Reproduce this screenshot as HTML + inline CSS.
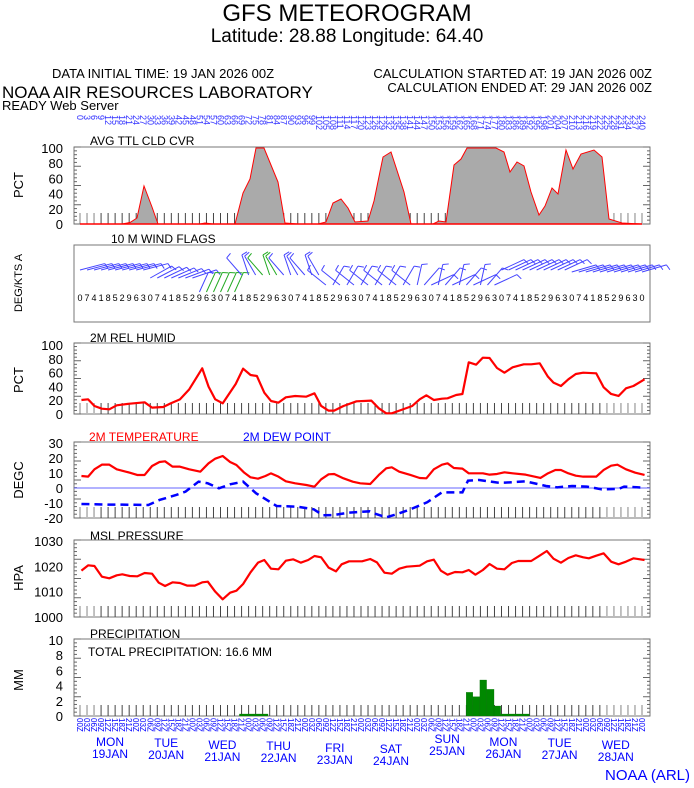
<!DOCTYPE html>
<html><head><meta charset="utf-8"><style>
html,body{margin:0;padding:0;background:#fff;}
svg{display:block;font-family:"Liberation Sans",sans-serif;}
</style></head><body>
<svg id="s" width="694" height="788" xmlns="http://www.w3.org/2000/svg">
<rect width="694" height="788" fill="#fff"/>
<text x="347" y="21" font-size="24" text-anchor="middle">GFS METEOROGRAM</text>
<text x="347" y="42" font-size="19" text-anchor="middle">Latitude: 28.88 Longitude:  64.40</text>
<text x="52" y="78" font-size="13">DATA INITIAL TIME: 19 JAN 2026 00Z</text>
<text x="652" y="78" font-size="13" text-anchor="end">CALCULATION STARTED AT: 19 JAN 2026 00Z</text>
<text x="652" y="92" font-size="13" text-anchor="end">CALCULATION ENDED AT: 29 JAN 2026 00Z</text>
<text x="2" y="98" font-size="17">NOAA AIR RESOURCES LABORATORY</text>
<text x="2" y="110" font-size="13">READY Web Server</text>

<text x="90" y="145" font-size="12">AVG TTL CLD CVR</text>
<text x="111" y="243" font-size="12">10 M  WIND FLAGS</text>
<text x="90" y="342" font-size="12">2M REL HUMID</text>
<text x="89" y="441" font-size="12" fill="#f00">2M TEMPERATURE</text>
<text x="243" y="441" font-size="12" fill="#00f">2M   DEW POINT</text>
<text x="90" y="540" font-size="12">MSL PRESSURE</text>
<text x="90" y="638" font-size="12">PRECIPITATION</text>
<text x="88" y="656" font-size="12">TOTAL PRECIPITATION:  16.6 MM</text>

<g font-size="13" transform="rotate(-90)">
<text x="-185" y="23" text-anchor="middle">PCT</text>
<text x="-283" y="22" text-anchor="middle" font-size="11">DEG/KTS  A</text>
<text x="-380" y="23" text-anchor="middle">PCT</text>
<text x="-480" y="23" text-anchor="middle">DEGC</text>
<text x="-578" y="23" text-anchor="middle">HPA</text>
<text x="-680" y="23" text-anchor="middle">MM</text>
</g>
<g id="dyn"></g>

<polygon fill="#aaa" stroke="#f00" stroke-width="1" points="80,224 122,224 130,222.5 137,218 144,186 152,207 158,224 200,224 205,223 213,224 235,224 243,193 250,179 256,148 264,148 278,182 285,223 298,224 318,224 326,222 333,203 341,199 348,208 355,222 368,221 374,201 383,157 391,152 404,192 411,224 433,224 439,221 446,222 454,165 461,159 467,148 496,148 504,152 510,172 517,162 524,166 531,192 539,215 545,206 552,188 558,194 566,150 573,169 581,154 594,150 602,157 609,219 622,223 642,224"/>
<line x1="80" y1="224" x2="642" y2="224" stroke="#f00" stroke-width="1.5"/>

<g fill="none" stroke="#f00" stroke-width="2.2" stroke-linejoin="round">
<polyline vector-effect="non-scaling-stroke" transform="translate(74,340) scale(0.3717,0.3333)" points="20,180 38,178 55,198 75,206 95,208 115,196 150,191 190,187 210,203 240,201 260,190 285,178 310,148 345,85 362,140 380,178 400,190 435,132 455,86 475,105 492,108 512,158 530,183 550,188 570,172 595,168 625,170 647,160 665,198 685,212 700,212 725,198 760,184 800,182 820,205 840,220 855,220 880,210 910,198 930,178 948,166 968,180 990,176 1005,175 1028,165 1045,162 1062,67 1082,74 1100,53 1118,54 1138,84 1158,98 1180,82 1210,73 1230,73 1253,70 1275,110 1290,128 1310,138 1330,118 1350,102 1370,98 1405,100 1425,142 1445,162 1465,168 1485,145 1505,138 1535,118"/>
<polyline vector-effect="non-scaling-stroke" transform="translate(74,340) scale(0.3717,0.3333)" points="20,408 38,410 55,388 75,374 95,374 115,388 150,398 170,405 190,405 210,378 230,366 245,364 265,380 285,380 310,388 340,395 362,370 380,356 400,348 420,366 437,375 457,397 475,412 495,416 515,408 530,400 550,410 570,424 595,430 625,435 647,440 665,418 685,403 700,402 725,415 750,425 770,430 797,432 820,405 840,385 855,382 875,395 905,405 930,414 948,415 968,388 990,374 1005,370 1022,384 1045,386 1062,400 1082,400 1100,400 1118,404 1138,402 1158,397 1180,400 1215,404 1255,414 1275,400 1295,390 1310,390 1330,400 1350,407 1370,410 1405,410 1425,390 1445,377 1462,374 1485,388 1510,398 1535,405"/>
<polyline vector-effect="non-scaling-stroke" transform="translate(74,530) scale(0.3717,0.3333)" points="20,122 38,106 55,108 75,140 95,145 115,136 130,133 150,138 170,139 190,129 210,131 228,158 245,168 265,157 285,159 305,167 325,167 345,157 360,155 380,185 400,208 420,188 437,182 455,162 475,127 495,98 512,90 530,116 550,118 570,92 590,88 610,98 630,90 647,78 665,82 685,113 705,124 720,103 740,94 775,94 797,87 815,97 835,128 855,131 875,116 895,110 930,107 950,94 968,89 987,122 1005,134 1025,126 1045,127 1062,120 1080,134 1100,120 1118,102 1138,116 1158,118 1178,99 1195,93 1230,93 1250,79 1272,63 1290,86 1310,98 1330,84 1350,76 1370,82 1385,85 1405,77 1425,70 1445,95 1465,103 1485,95 1505,85 1535,90"/>
</g>
<line x1="74" y1="488" x2="650" y2="488" stroke="#66f" stroke-width="1"/>
<polyline fill="none" stroke="#00f" stroke-width="2.5" stroke-dasharray="8,5" vector-effect="non-scaling-stroke" transform="translate(74,340) scale(0.3717,0.3333)" points="20,492 95,494 130,494 200,495 230,480 275,465 300,455 335,425 360,430 390,445 420,433 455,425 490,460 545,498 600,500 645,508 670,526 700,525 740,518 795,514 812,522 840,532 870,522 905,508 950,487 990,457 1045,457 1060,422 1090,420 1140,428 1160,428 1215,424 1270,438 1300,442 1340,438 1380,440 1420,448 1465,447 1480,440 1535,443"/>

<g fill="#080" stroke="#060" stroke-width="0.6" transform="translate(74,530) scale(0.3717,0.3333)">
<rect x="1055" y="487" width="18" height="71"/>
<rect x="1073" y="500" width="19" height="58"/>
<rect x="1092" y="450" width="18" height="108"/>
<rect x="1110" y="478" width="20" height="80"/>
<rect x="1130" y="528" width="18" height="30"/>
<rect x="1148" y="552" width="77" height="6"/>
<rect x="445" y="552" width="77" height="6"/>
</g>

<text x="605" y="780" font-size="15" fill="#00f">NOAA (ARL)</text>
</svg>
<script>
const NS="http://www.w3.org/2000/svg";
const g=document.getElementById('dyn');
function el(t,a,txt){const e=document.createElementNS(NS,t);for(const k in a)e.setAttribute(k,a[k]);if(txt!==undefined)e.textContent=txt;g.appendChild(e);return e;}
const X=i=>80+7.025*i;
const panels=[[147,224],[245,322],[343,414],[442,518],[540,617],[639,716]];
panels.forEach((p,k)=>{
 el('rect',{x:74,y:p[0],width:576,height:p[1]-p[0],fill:'none',stroke:'#777','stroke-width':1});
 if(k==1)return;
 for(let i=0;i<=80;i++){const c=(i<3||i>74)?'#bbb':'#444';
  el('line',{x1:X(i),y1:p[1],x2:X(i),y2:p[1]-11,stroke:c,'stroke-width':(i<3||i>74)?1.8:1});}
 const h=p[1]-p[0];
 for(let j=0;j<=20;j++){const y=p[0]+h*j/20;const L=j%5==0?7:3;
  el('line',{x1:74,y1:y,x2:74+L,y2:y,stroke:'#666','stroke-width':1});
  el('line',{x1:650,y1:y,x2:650-L,y2:y,stroke:'#666','stroke-width':1});}
});
function yl(vals,y0,dy){vals.forEach((v,i)=>el('text',{x:63,y:y0+dy*i+5,'font-size':13,'text-anchor':'end'},v));}
yl(['100','80','60','40','20','0'],148,15.2);
yl(['100','80','60','40','20','0'],345,13.8);
yl(['30','20','10','0','-10','-20'],443,15);
yl(['1030','1020','1010','1000'],541,25.3);
yl(['10','8','6','4','2','0'],640,15.2);
for(let i=0;i<=80;i++){el('text',{x:0,y:0,'font-size':9,fill:'#33f',transform:`translate(${X(i)-3},${115}) rotate(90)`},String(i*3));}
const hz=['00Z','03Z','06Z','09Z','12Z','15Z','18Z','21Z'];
for(let i=0;i<=80;i++){el('text',{x:0,y:0,'font-size':8,fill:'#00f',transform:`translate(${X(i)-3},${718}) rotate(90)`},hz[i%8]);}
const days=[['MON','19JAN',746],['TUE','20JAN',747],['WED','21JAN',749],['THU','22JAN',750],['FRI','23JAN',752],['SAT','24JAN',753],['SUN','25JAN',743],['MON','26JAN',746],['TUE','27JAN',747],['WED','28JAN',749]];
days.forEach((d,k)=>{const x=110+56.2*k;el('text',{x:x,y:d[2],'font-size':12,fill:'#00f','text-anchor':'middle'},d[0]);el('text',{x:x,y:d[2]+12,'font-size':12,fill:'#00f','text-anchor':'middle'},d[1]);});
for(let i=0;i<=80;i++){
 const x=X(i);let ang,col='#44f',len=26,by=270;
 if(i<10){ang=-18;by=270;}
 else if(i<17){ang=-55+i*2;by=278;}
 else if(i<23){ang=-70;col=i>=18?'#2a2':'#44f';by=292;}
 else if(i<35){ang=-105-(i%3)*10;by=275;col=(i>=26&&i<29)?'#2a2':'#44f';}
 else if(i<48){ang=(i%2?-125:-55)-10;by=285;}
 else if(i<60){ang=-80+(i%3)*25;by=285;}
 else if(i<70){ang=-30;by=270;}
 else {ang=-20;by=272;}
 const r=ang*Math.PI/180;const x2=x+len*Math.cos(r),y2=by+len*Math.sin(r)*0.8;
 el('line',{x1:x,y1:by,x2:x2,y2:y2,stroke:col,'stroke-width':1});
 el('line',{x1:x2,y1:y2,x2:x2+6*Math.cos(r+1.3),y2:y2+6*Math.sin(r+1.3),stroke:col,'stroke-width':1});
 el('text',{x:x,y:301,'font-size':9,'text-anchor':'middle'},String((i*7)%10));
}
</script>
</body></html>
